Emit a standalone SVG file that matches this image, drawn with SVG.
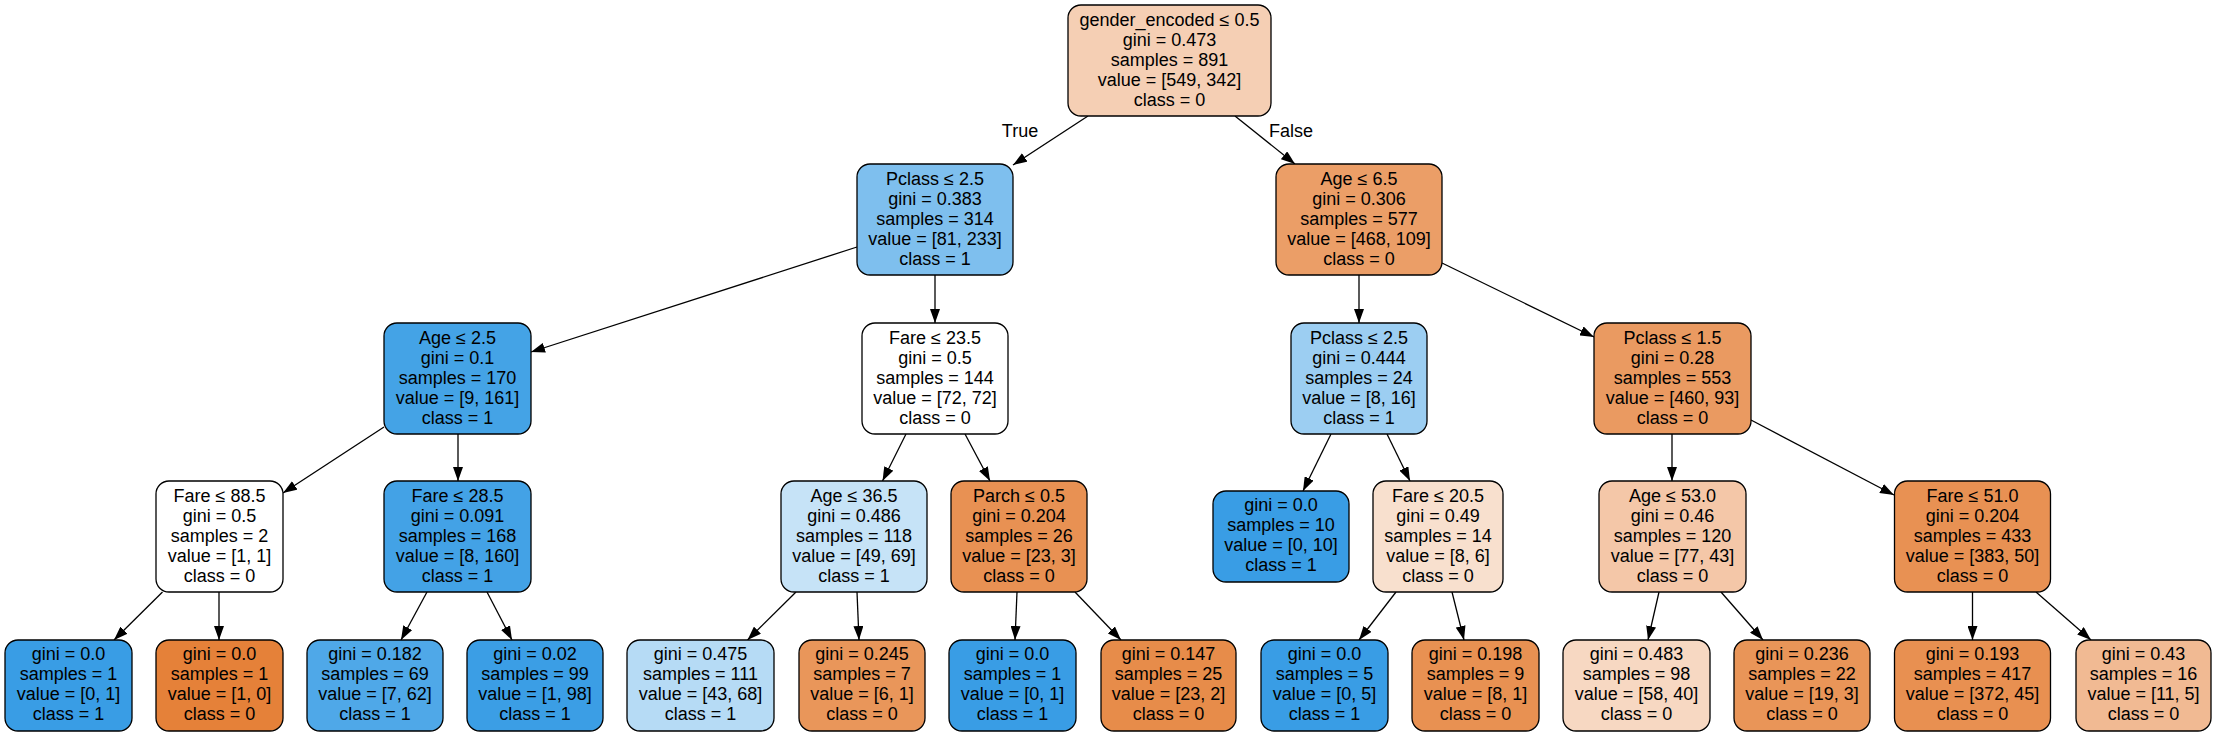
<svg xmlns="http://www.w3.org/2000/svg" width="2217" height="736" viewBox="0 0 2217 736">
<style>
g[id^="n"] rect{stroke:#000;stroke-width:1.3}
text{font-family:"Liberation Sans",Arial,Helvetica,sans-serif;font-size:18px;fill:#000;text-anchor:middle}
.e line{stroke:#000;stroke-width:1.3;marker-end:url(#ah)}
</style>
<defs>
<marker id="ah" viewBox="0 0 14 10" refX="14" refY="5" markerWidth="14" markerHeight="10" markerUnits="userSpaceOnUse" orient="auto">
<path d="M0,0 L14,5 L0,10 z" fill="#000"/>
</marker>
</defs>
<rect x="0" y="0" width="2217" height="736" fill="#fff"/>
<g class="e" id="edges">
<line x1="1088" y1="116" x2="1013" y2="165"/>
<line x1="1235" y1="116" x2="1295" y2="164"/>
<line x1="857" y1="247" x2="531" y2="352"/>
<line x1="935" y1="275" x2="935" y2="323"/>
<line x1="1359" y1="275" x2="1359" y2="323"/>
<line x1="1442" y1="263" x2="1594" y2="337"/>
<line x1="384" y1="427" x2="283" y2="493"/>
<line x1="458" y1="434" x2="458" y2="481"/>
<line x1="906" y1="434" x2="882.5" y2="481"/>
<line x1="965" y1="434" x2="990" y2="481"/>
<line x1="1331" y1="434" x2="1303" y2="491"/>
<line x1="1387" y1="434" x2="1410" y2="481"/>
<line x1="1672" y1="434" x2="1672" y2="481"/>
<line x1="1751" y1="420" x2="1894" y2="495"/>
<line x1="162.5" y1="592" x2="114" y2="640"/>
<line x1="219" y1="592" x2="219" y2="640"/>
<line x1="427" y1="592" x2="401" y2="640"/>
<line x1="487" y1="592" x2="512" y2="640"/>
<line x1="796" y1="592" x2="747.5" y2="640"/>
<line x1="857" y1="592" x2="859" y2="640"/>
<line x1="1017" y1="592" x2="1015" y2="640"/>
<line x1="1075" y1="592" x2="1121" y2="640"/>
<line x1="1396" y1="592" x2="1359" y2="640"/>
<line x1="1452" y1="592" x2="1464" y2="640"/>
<line x1="1659" y1="592" x2="1648" y2="640"/>
<line x1="1721" y1="592" x2="1763" y2="640"/>
<line x1="1972.5" y1="592" x2="1972.5" y2="640"/>
<line x1="2036" y1="592" x2="2091" y2="640"/>
<text x="1020" y="137">True</text>
<text x="1291" y="137">False</text>
</g>
<g id="n0"><rect x="1068" y="5" width="203" height="111" rx="13" fill="#f5cfb4"/><text x="1169.5" y="26">gender_encoded ≤ 0.5<tspan x="1169.5" dy="20">gini = 0.473</tspan><tspan x="1169.5" dy="20">samples = 891</tspan><tspan x="1169.5" dy="20">value = [549, 342]</tspan><tspan x="1169.5" dy="20">class = 0</tspan></text></g>
<g id="n1"><rect x="857" y="164" width="156" height="111" rx="13" fill="#7ebfee"/><text x="935" y="185">Pclass ≤ 2.5<tspan x="935" dy="20">gini = 0.383</tspan><tspan x="935" dy="20">samples = 314</tspan><tspan x="935" dy="20">value = [81, 233]</tspan><tspan x="935" dy="20">class = 1</tspan></text></g>
<g id="n2"><rect x="384" y="323" width="147" height="111" rx="13" fill="#44a3e6"/><text x="457.5" y="344">Age ≤ 2.5<tspan x="457.5" dy="20">gini = 0.1</tspan><tspan x="457.5" dy="20">samples = 170</tspan><tspan x="457.5" dy="20">value = [9, 161]</tspan><tspan x="457.5" dy="20">class = 1</tspan></text></g>
<g id="n3"><rect x="156" y="481" width="127" height="111" rx="13" fill="#ffffff"/><text x="219.5" y="502">Fare ≤ 88.5<tspan x="219.5" dy="20">gini = 0.5</tspan><tspan x="219.5" dy="20">samples = 2</tspan><tspan x="219.5" dy="20">value = [1, 1]</tspan><tspan x="219.5" dy="20">class = 0</tspan></text></g>
<g id="n4"><rect x="5" y="640" width="127" height="91" rx="13" fill="#399de5"/><text x="68.5" y="660">gini = 0.0<tspan x="68.5" dy="20">samples = 1</tspan><tspan x="68.5" dy="20">value = [0, 1]</tspan><tspan x="68.5" dy="20">class = 1</tspan></text></g>
<g id="n5"><rect x="156" y="640" width="127" height="91" rx="13" fill="#e58139"/><text x="219.5" y="660">gini = 0.0<tspan x="219.5" dy="20">samples = 1</tspan><tspan x="219.5" dy="20">value = [1, 0]</tspan><tspan x="219.5" dy="20">class = 0</tspan></text></g>
<g id="n6"><rect x="384" y="481" width="147" height="111" rx="13" fill="#43a2e6"/><text x="457.5" y="502">Fare ≤ 28.5<tspan x="457.5" dy="20">gini = 0.091</tspan><tspan x="457.5" dy="20">samples = 168</tspan><tspan x="457.5" dy="20">value = [8, 160]</tspan><tspan x="457.5" dy="20">class = 1</tspan></text></g>
<g id="n7"><rect x="307" y="640" width="136" height="91" rx="13" fill="#4fa8e8"/><text x="375" y="660">gini = 0.182<tspan x="375" dy="20">samples = 69</tspan><tspan x="375" dy="20">value = [7, 62]</tspan><tspan x="375" dy="20">class = 1</tspan></text></g>
<g id="n8"><rect x="467" y="640" width="136" height="91" rx="13" fill="#3b9ee5"/><text x="535" y="660">gini = 0.02<tspan x="535" dy="20">samples = 99</tspan><tspan x="535" dy="20">value = [1, 98]</tspan><tspan x="535" dy="20">class = 1</tspan></text></g>
<g id="n9"><rect x="862" y="323" width="146" height="111" rx="13" fill="#ffffff"/><text x="935" y="344">Fare ≤ 23.5<tspan x="935" dy="20">gini = 0.5</tspan><tspan x="935" dy="20">samples = 144</tspan><tspan x="935" dy="20">value = [72, 72]</tspan><tspan x="935" dy="20">class = 0</tspan></text></g>
<g id="n10"><rect x="781" y="481" width="146" height="111" rx="13" fill="#c6e3f7"/><text x="854" y="502">Age ≤ 36.5<tspan x="854" dy="20">gini = 0.486</tspan><tspan x="854" dy="20">samples = 118</tspan><tspan x="854" dy="20">value = [49, 69]</tspan><tspan x="854" dy="20">class = 1</tspan></text></g>
<g id="n11"><rect x="627" y="640" width="147" height="91" rx="13" fill="#b6dbf5"/><text x="700.5" y="660">gini = 0.475<tspan x="700.5" dy="20">samples = 111</tspan><tspan x="700.5" dy="20">value = [43, 68]</tspan><tspan x="700.5" dy="20">class = 1</tspan></text></g>
<g id="n12"><rect x="799" y="640" width="126" height="91" rx="13" fill="#e9965a"/><text x="862" y="660">gini = 0.245<tspan x="862" dy="20">samples = 7</tspan><tspan x="862" dy="20">value = [6, 1]</tspan><tspan x="862" dy="20">class = 0</tspan></text></g>
<g id="n13"><rect x="951" y="481" width="136" height="111" rx="13" fill="#e89153"/><text x="1019" y="502">Parch ≤ 0.5<tspan x="1019" dy="20">gini = 0.204</tspan><tspan x="1019" dy="20">samples = 26</tspan><tspan x="1019" dy="20">value = [23, 3]</tspan><tspan x="1019" dy="20">class = 0</tspan></text></g>
<g id="n14"><rect x="949" y="640" width="127" height="91" rx="13" fill="#399de5"/><text x="1012.5" y="660">gini = 0.0<tspan x="1012.5" dy="20">samples = 1</tspan><tspan x="1012.5" dy="20">value = [0, 1]</tspan><tspan x="1012.5" dy="20">class = 1</tspan></text></g>
<g id="n15"><rect x="1101" y="640" width="135" height="91" rx="13" fill="#e78c4a"/><text x="1168.5" y="660">gini = 0.147<tspan x="1168.5" dy="20">samples = 25</tspan><tspan x="1168.5" dy="20">value = [23, 2]</tspan><tspan x="1168.5" dy="20">class = 0</tspan></text></g>
<g id="n16"><rect x="1276" y="164" width="166" height="111" rx="13" fill="#eb9e67"/><text x="1359" y="185">Age ≤ 6.5<tspan x="1359" dy="20">gini = 0.306</tspan><tspan x="1359" dy="20">samples = 577</tspan><tspan x="1359" dy="20">value = [468, 109]</tspan><tspan x="1359" dy="20">class = 0</tspan></text></g>
<g id="n17"><rect x="1291" y="323" width="136" height="111" rx="13" fill="#9ccef2"/><text x="1359" y="344">Pclass ≤ 2.5<tspan x="1359" dy="20">gini = 0.444</tspan><tspan x="1359" dy="20">samples = 24</tspan><tspan x="1359" dy="20">value = [8, 16]</tspan><tspan x="1359" dy="20">class = 1</tspan></text></g>
<g id="n18"><rect x="1213" y="491" width="136" height="91" rx="13" fill="#399de5"/><text x="1281" y="511">gini = 0.0<tspan x="1281" dy="20">samples = 10</tspan><tspan x="1281" dy="20">value = [0, 10]</tspan><tspan x="1281" dy="20">class = 1</tspan></text></g>
<g id="n19"><rect x="1373" y="481" width="130" height="111" rx="13" fill="#f8e0ce"/><text x="1438" y="502">Fare ≤ 20.5<tspan x="1438" dy="20">gini = 0.49</tspan><tspan x="1438" dy="20">samples = 14</tspan><tspan x="1438" dy="20">value = [8, 6]</tspan><tspan x="1438" dy="20">class = 0</tspan></text></g>
<g id="n20"><rect x="1261" y="640" width="127" height="91" rx="13" fill="#399de5"/><text x="1324.5" y="660">gini = 0.0<tspan x="1324.5" dy="20">samples = 5</tspan><tspan x="1324.5" dy="20">value = [0, 5]</tspan><tspan x="1324.5" dy="20">class = 1</tspan></text></g>
<g id="n21"><rect x="1412" y="640" width="127" height="91" rx="13" fill="#e89152"/><text x="1475.5" y="660">gini = 0.198<tspan x="1475.5" dy="20">samples = 9</tspan><tspan x="1475.5" dy="20">value = [8, 1]</tspan><tspan x="1475.5" dy="20">class = 0</tspan></text></g>
<g id="n22"><rect x="1594" y="323" width="157" height="111" rx="13" fill="#ea9a61"/><text x="1672.5" y="344">Pclass ≤ 1.5<tspan x="1672.5" dy="20">gini = 0.28</tspan><tspan x="1672.5" dy="20">samples = 553</tspan><tspan x="1672.5" dy="20">value = [460, 93]</tspan><tspan x="1672.5" dy="20">class = 0</tspan></text></g>
<g id="n23"><rect x="1599" y="481" width="147" height="111" rx="13" fill="#f4c7a8"/><text x="1672.5" y="502">Age ≤ 53.0<tspan x="1672.5" dy="20">gini = 0.46</tspan><tspan x="1672.5" dy="20">samples = 120</tspan><tspan x="1672.5" dy="20">value = [77, 43]</tspan><tspan x="1672.5" dy="20">class = 0</tspan></text></g>
<g id="n24"><rect x="1563" y="640" width="147" height="91" rx="13" fill="#f7d8c2"/><text x="1636.5" y="660">gini = 0.483<tspan x="1636.5" dy="20">samples = 98</tspan><tspan x="1636.5" dy="20">value = [58, 40]</tspan><tspan x="1636.5" dy="20">class = 0</tspan></text></g>
<g id="n25"><rect x="1734" y="640" width="136" height="91" rx="13" fill="#e99558"/><text x="1802" y="660">gini = 0.236<tspan x="1802" dy="20">samples = 22</tspan><tspan x="1802" dy="20">value = [19, 3]</tspan><tspan x="1802" dy="20">class = 0</tspan></text></g>
<g id="n26"><rect x="1894.5" y="481" width="156" height="111" rx="13" fill="#e89153"/><text x="1972.5" y="502">Fare ≤ 51.0<tspan x="1972.5" dy="20">gini = 0.204</tspan><tspan x="1972.5" dy="20">samples = 433</tspan><tspan x="1972.5" dy="20">value = [383, 50]</tspan><tspan x="1972.5" dy="20">class = 0</tspan></text></g>
<g id="n27"><rect x="1894.5" y="640" width="156" height="91" rx="13" fill="#e89051"/><text x="1972.5" y="660">gini = 0.193<tspan x="1972.5" dy="20">samples = 417</tspan><tspan x="1972.5" dy="20">value = [372, 45]</tspan><tspan x="1972.5" dy="20">class = 0</tspan></text></g>
<g id="n28"><rect x="2076" y="640" width="135" height="91" rx="13" fill="#f1ba93"/><text x="2143.5" y="660">gini = 0.43<tspan x="2143.5" dy="20">samples = 16</tspan><tspan x="2143.5" dy="20">value = [11, 5]</tspan><tspan x="2143.5" dy="20">class = 0</tspan></text></g>
</svg>
